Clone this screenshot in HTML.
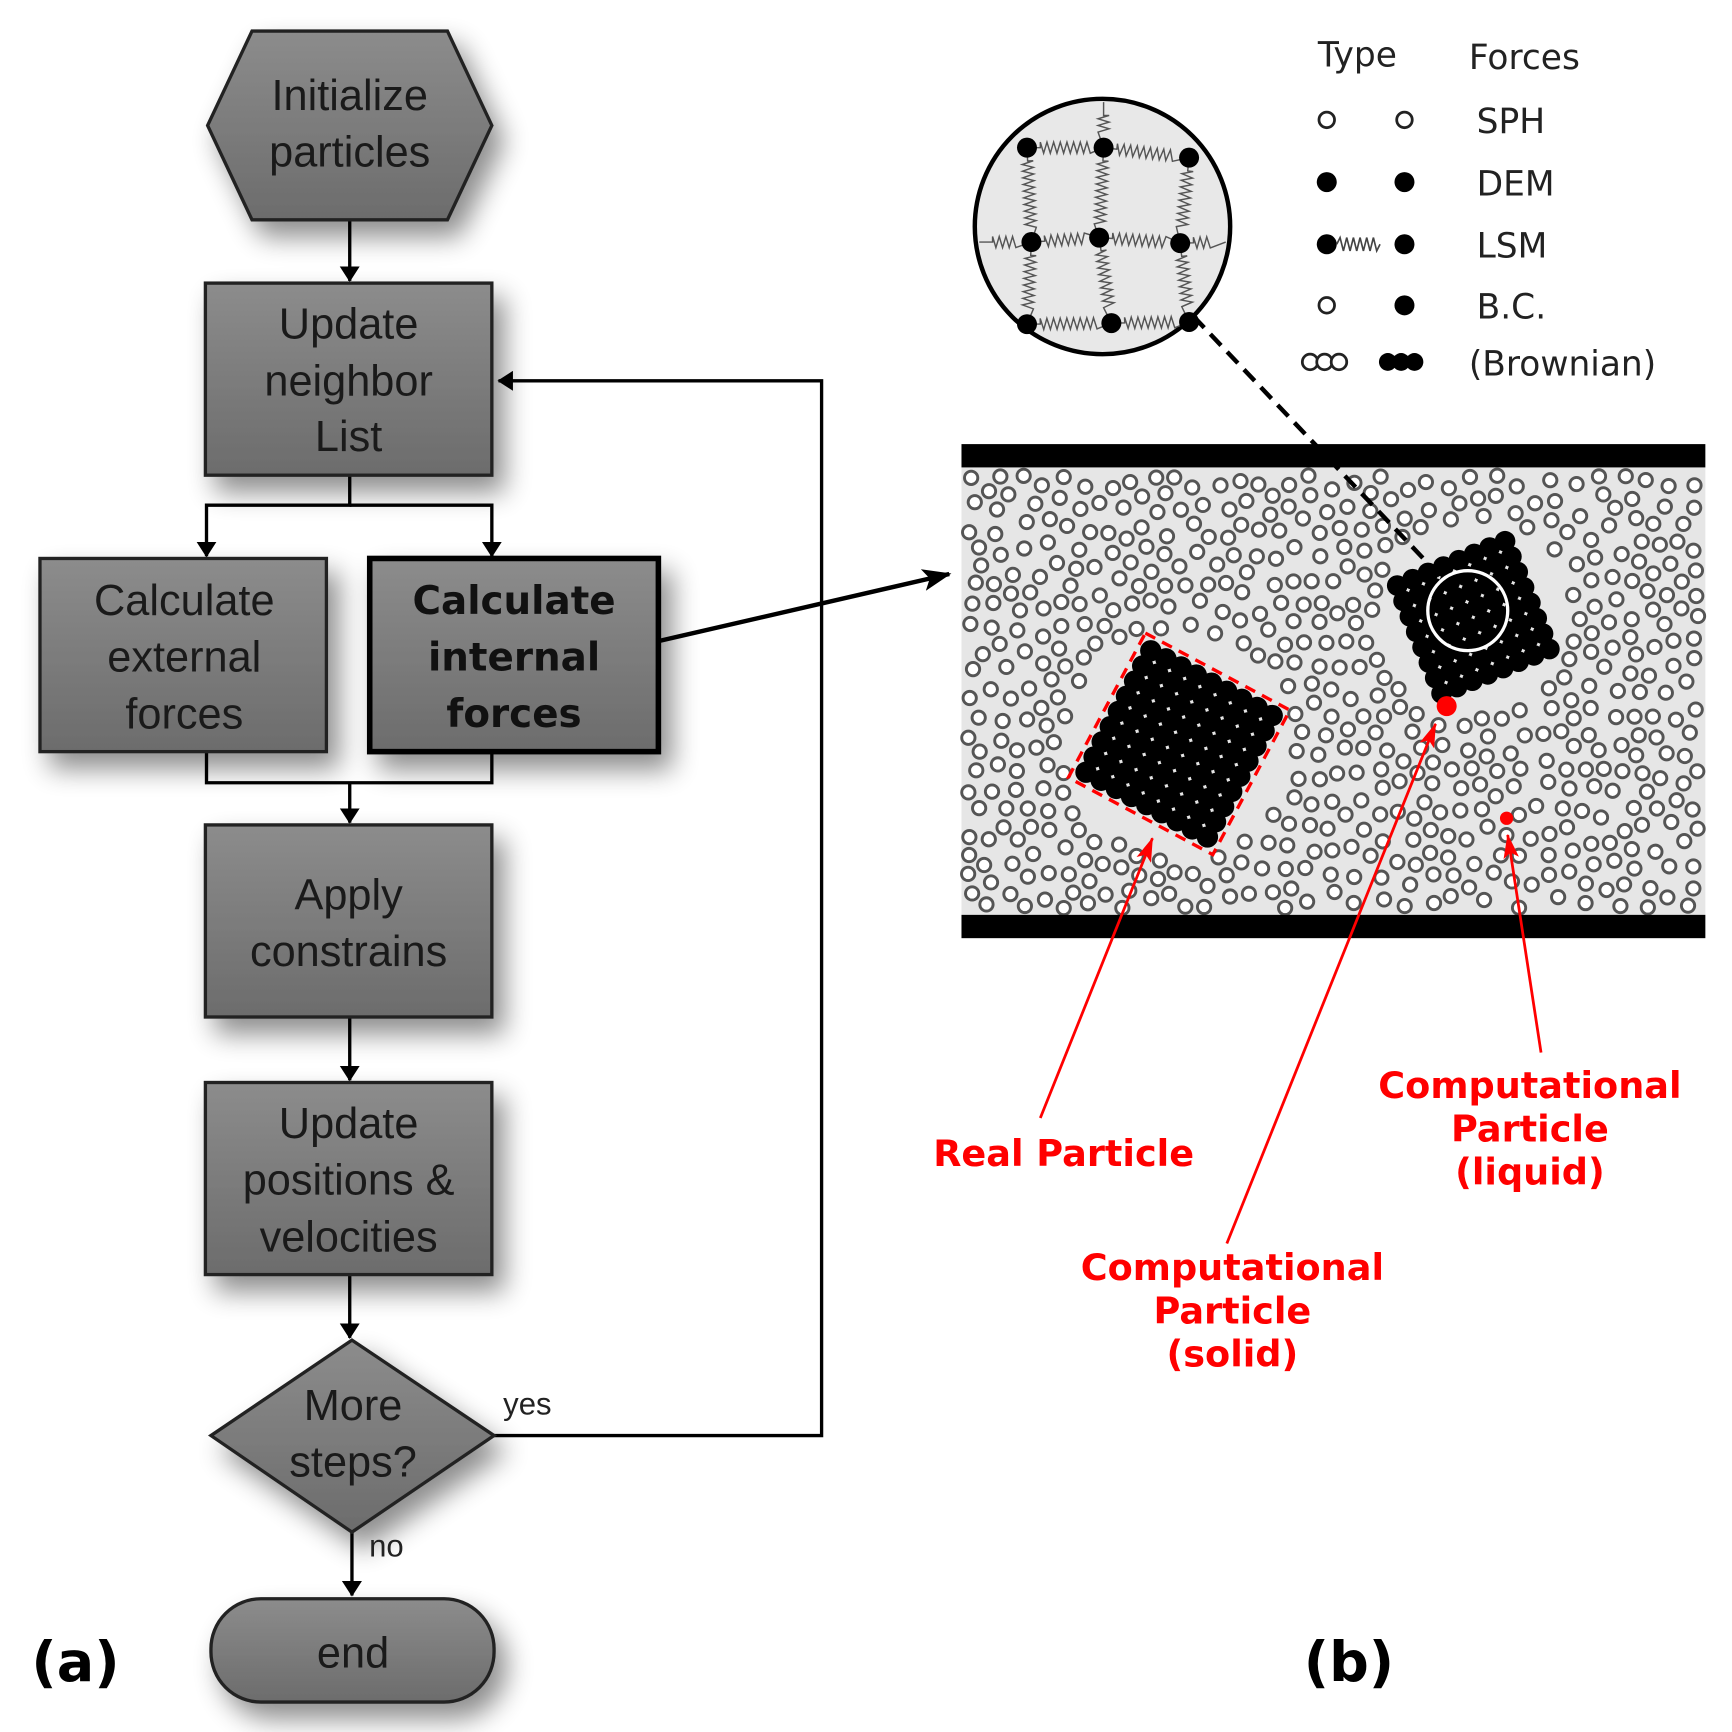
<!DOCTYPE html>
<html><head><meta charset="utf-8"><style>
html,body{margin:0;padding:0;background:#fff}
svg{display:block}
text{font-family:"Liberation Sans",sans-serif}
.dj{font-family:"DejaVu Sans","Liberation Sans",sans-serif}
</style></head><body>
<svg id="s" width="1732" height="1732" viewBox="0 0 1560 1560" xmlns="http://www.w3.org/2000/svg">
<defs>
<linearGradient id="g" x1="0" y1="0" x2="0" y2="1"><stop offset="0" stop-color="#8c8c8c"/><stop offset="1" stop-color="#6c6c6c"/></linearGradient>
<filter id="sh" x="-30%" y="-30%" width="160%" height="170%"><feGaussianBlur in="SourceAlpha" stdDeviation="12"/><feOffset dx="10" dy="14"/><feComponentTransfer><feFuncA type="linear" slope="0.45"/></feComponentTransfer><feMerge><feMergeNode/><feMergeNode in="SourceGraphic"/></feMerge></filter>
<marker id="ab" markerWidth="26" markerHeight="20" refX="24" refY="10" orient="auto" markerUnits="userSpaceOnUse" viewBox="0 0 26 20"><path d="M0,0 L26,10 L0,20 L6,10z" fill="#000"/></marker>
<marker id="ah" markerWidth="14" markerHeight="18" refX="13" refY="9" orient="auto" markerUnits="userSpaceOnUse" viewBox="0 0 14 18"><path d="M0,0 L14,9 L0,18z" fill="#000"/></marker>
<marker id="rr" markerWidth="22" markerHeight="14" refX="21" refY="7" orient="auto" markerUnits="userSpaceOnUse" viewBox="0 0 22 14"><path d="M0,0 L22,7 L0,14 L5,7z" fill="#f00"/></marker>
</defs>

<g stroke="#000" stroke-width="3" fill="none">
<line x1="315" y1="198" x2="315" y2="253" marker-end="url(#ah)"/>
<polyline points="315,428 315,455 186,455 186,501" marker-end="url(#ah)"/>
<polyline points="315,455 443,455 443,501" marker-end="url(#ah)"/>
<polyline points="186,677 186,705 443,705 443,677"/>
<line x1="315" y1="705" x2="315" y2="741" marker-end="url(#ah)"/>
<line x1="315" y1="916" x2="315" y2="973" marker-end="url(#ah)"/>
<line x1="315" y1="1148" x2="315" y2="1205" marker-end="url(#ah)"/>
<polyline points="445,1293 740,1293 740,343 449,343" marker-end="url(#ah)"/>
<line x1="317" y1="1380" x2="317" y2="1437" marker-end="url(#ah)"/>
<line x1="595" y1="577" x2="855" y2="517" stroke-width="4" marker-end="url(#ab)"/>
</g>

<g fill="url(#g)" stroke="#222" stroke-width="3" filter="url(#sh)">
<polygon points="187,113 227,28 403,28 443,113 403,198 227,198"/>
<rect x="185" y="255" width="258" height="173"/>
<rect x="36" y="503" width="258" height="174"/>
<rect x="333" y="503" width="260" height="174" stroke="#000" stroke-width="5"/>
<rect x="185" y="743" width="258" height="173"/>
<rect x="185" y="975" width="258" height="173"/>
<polygon points="317,1207 445,1293 317,1380 190,1293"/>
<rect x="190" y="1440" width="255" height="93" rx="45"/>
</g>

<g font-size="39" fill="#1a1a1a" text-anchor="middle">
<text x="315" y="99">Initialize</text><text x="315" y="150">particles</text>
<text x="314" y="305">Update</text><text x="314" y="356">neighbor</text><text x="314" y="406">List</text>
<text x="166" y="554">Calculate</text><text x="166" y="605">external</text><text x="166" y="656">forces</text>
<text x="314" y="819">Apply</text><text x="314" y="870">constrains</text>
<text x="314" y="1025">Update</text><text x="314" y="1076">positions &amp;</text><text x="314" y="1127">velocities</text>
<text x="318" y="1279">More</text><text x="318" y="1330">steps?</text>
<text x="318" y="1502">end</text>
</g>
<g font-size="35" font-weight="bold" fill="#111" text-anchor="middle">
<text class="dj" x="463" y="553">Calculate</text><text class="dj" x="463" y="604">internal</text><text class="dj" x="463" y="655">forces</text>
</g>
<text x="475" y="1274" font-size="28" text-anchor="middle" fill="#222">yes</text>
<text x="348" y="1402" font-size="28" text-anchor="middle" fill="#222">no</text>
<text class="dj" x="68" y="1514" font-size="50" font-weight="bold" text-anchor="middle">(a)</text>
<text class="dj" x="1215" y="1514" font-size="50" font-weight="bold" text-anchor="middle">(b)</text>

<rect x="866" y="421" width="670" height="403" fill="#e6e6e6"/>
<g id="fluid" fill="#fff" stroke="#555" stroke-width="2.6"></g>
<g id="solid" fill="#000"></g>
<rect x="866" y="400" width="670" height="21" fill="#000"/>
<rect x="866" y="824" width="670" height="21" fill="#000"/>
<circle cx="1322" cy="550" r="36" fill="none" stroke="#fff" stroke-width="3"/>
<circle cx="1303" cy="636" r="9" fill="#f00"/>
<circle cx="1357" cy="737" r="6" fill="#f00"/>
<line x1="1075" y1="285" x2="1300" y2="522" stroke="#000" stroke-width="4" stroke-dasharray="14,8"/>

<g stroke="#f00" stroke-width="2.5" fill="none">
<line x1="937" y1="1007" x2="1038" y2="755" marker-end="url(#rr)"/>
<line x1="1105" y1="1120" x2="1293" y2="652" marker-end="url(#rr)"/>
<line x1="1388" y1="948" x2="1358" y2="752" marker-end="url(#rr)"/>
</g>
<g font-size="33" font-weight="bold" fill="#f00" text-anchor="middle">
<text class="dj" x="958" y="1050">Real Particle</text>
<text class="dj" x="1378" y="989">Computational</text><text class="dj" x="1378" y="1028">Particle</text><text class="dj" x="1378" y="1067">(liquid)</text>
<text class="dj" x="1110" y="1153">Computational</text><text class="dj" x="1110" y="1192">Particle</text><text class="dj" x="1110" y="1231">(solid)</text>
</g>

<circle cx="993" cy="204" r="115" fill="#e8e8e8" stroke="#000" stroke-width="4"/>
<g id="mag"></g>

<g font-size="31" fill="#222">
<text class="dj" x="1187" y="60">Type</text><text class="dj" x="1323" y="62">Forces</text>
<text class="dj" x="1330" y="120">SPH</text><text class="dj" x="1330" y="176">DEM</text>
<text class="dj" x="1330" y="232">LSM</text><text class="dj" x="1330" y="287">B.C.</text>
<text class="dj" x="1323" y="338">(Brownian)</text>
</g>
<g stroke="#222" stroke-width="2.5" fill="#fff">
<circle cx="1195" cy="108" r="7"/><circle cx="1265" cy="108" r="7"/>
<circle cx="1195" cy="275" r="7"/>
<circle cx="1180" cy="326" r="7"/><circle cx="1193" cy="326" r="7"/><circle cx="1206" cy="326" r="7"/>
</g>
<g fill="#000">
<circle cx="1195" cy="164" r="9"/><circle cx="1265" cy="164" r="9"/>
<circle cx="1195" cy="220" r="9"/><circle cx="1265" cy="220" r="9"/>
<circle cx="1265" cy="275" r="9"/>
<circle cx="1250" cy="326" r="8"/><circle cx="1262" cy="326" r="8"/><circle cx="1274" cy="326" r="8"/>
</g>
<path d="M1204,220 l3,-6 l3,12 l3,-12 l3,12 l3,-12 l3,12 l3,-12 l3,12 l3,-12 l3,12 l3,-12 l3,12 l3,-6" stroke="#444" stroke-width="1.5" fill="none"/>
</svg>
<script>
var NS="http://www.w3.org/2000/svg";
function mk(p,t,a){var e=document.createElementNS(NS,t);for(var k in a)e.setAttribute(k,a[k]);p.appendChild(e);return e;}
var seed=7;function rnd(){seed=(seed*16807)%2147483647;return seed/2147483647;}
var solid=document.getElementById('solid');
var clusters=[];
function cluster(cx,cy,n,sp,ang){var c=Math.cos(ang),s=Math.sin(ang);
for(var i=0;i<n;i++)for(var j=0;j<n;j++){var u=(i-(n-1)/2)*sp,v=(j-(n-1)/2)*sp;var x=cx+u*c-v*s,y=cy+u*s+v*c;mk(solid,'circle',{cx:x,cy:y,r:sp*0.62});}
clusters.push([cx,cy,n*sp*0.72]);}
cluster(1062,670,9,15.5,0.49);
cluster(1327,556,8,15,-0.39);
(function(){var cx=1062,cy=670,h=9*15.5/2+4,a=0.49,c=Math.cos(a),s=Math.sin(a);var P=[[-h,-h],[h,-h],[h,h],[-h,h]].map(function(p){return (cx+p[0]*c-p[1]*s)+','+(cy+p[0]*s+p[1]*c);});
var svg=document.getElementById('s');var poly=mk(svg,'polygon',{points:P.join(' '),fill:'none',stroke:'#f00','stroke-width':3,'stroke-dasharray':'10,7'});
svg.insertBefore(poly,solid.nextSibling);})();
var fl=document.getElementById('fluid');var placed=[];var tries=0;
while(placed.length<760&&tries<40000){tries++;var x=872+rnd()*658,y=428+rnd()*390;var ok=true;
for(var k=0;k<clusters.length;k++){var c=clusters[k];if(Math.hypot(x-c[0],y-c[1])<c[2]+4){ok=false;break;}}
if(!ok)continue;
for(var m=0;m<placed.length;m++){var p=placed[m];if(Math.abs(p[0]-x)<16&&Math.abs(p[1]-y)<16&&Math.hypot(p[0]-x,p[1]-y)<16){ok=false;break;}}
if(!ok)continue;placed.push([x,y]);mk(fl,'circle',{cx:x.toFixed(1),cy:y.toFixed(1),r:6});}
var mag=document.getElementById('mag');
var N=[[925,133],[994,133],[1071,142],[929,218],[990,214],[1063,219],[925,292],[1001,291],[1071,290]];
function spring(a,b){var dx=b[0]-a[0],dy=b[1]-a[1],L=Math.hypot(dx,dy),ux=dx/L,uy=dy/L,nx=-uy,ny=ux;var d='M'+a[0]+','+a[1];var st=12,en=L-12,k=0;
d+=' L'+(a[0]+ux*st)+','+(a[1]+uy*st);for(var t=st;t<=en;t+=3){var o=(k++%2?5:-5);d+=' L'+(a[0]+ux*t+nx*o).toFixed(1)+','+(a[1]+uy*t+ny*o).toFixed(1);}
d+=' L'+b[0]+','+b[1];mk(mag,'path',{d:d,stroke:'#555','stroke-width':1.3,fill:'none'});}
var E=[[0,1],[1,2],[3,4],[4,5],[6,7],[7,8],[0,3],[3,6],[1,4],[4,7],[2,5],[5,8]];
E.forEach(function(e){spring(N[e[0]],N[e[1]]);});
spring([882,218],N[3]);spring(N[5],[1104,218]);spring([994,92],N[1]);
N.forEach(function(p){mk(mag,'circle',{cx:p[0],cy:p[1],r:9,fill:'#000'});});
</script>
</body></html>
